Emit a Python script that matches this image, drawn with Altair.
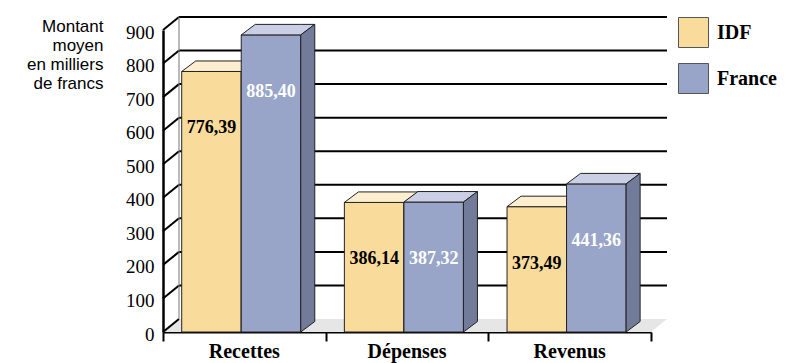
import altair as alt
import pandas as pd

# ---------------- data ----------------
categories = ["Recettes", "Dépenses", "Revenus"]
series = ["IDF", "France"]
idf_values = [776.39, 386.14, 373.49]
france_values = [885.40, 387.32, 441.36]
y_ticks = [0, 100, 200, 300, 400, 500, 600, 700, 800, 900]
y_title = ["Montant", "moyen", "en milliers", "de francs"]

# ---------------- style ----------------
front_colors = ["#F9DB9C", "#98A5C8"]
top_colors = ["#FDEECF", "#CBCFE5"]
side_colors = ["#C9B07A", "#737B9B"]
label_colors = ["black", "white"]
OUTLINE = "#222222"
SERIF = "Liberation Serif"
SANS = "Liberation Sans"

W, H = 488, 302
Y_MAX = 900
N = len(categories)
px_x = W / N
px_y = H / Y_MAX
BAR_OFFSET = 0.115      # in category units
BAR_WIDTH = 0.366
BAR_DX = 14 / px_x      # bar depth
BAR_DY = 10.5 / px_y
WALL_DX_PX, WALL_DY_PX = 16, 13
WALL_DX = WALL_DX_PX / px_x
WALL_DY = WALL_DY_PX / px_y

values = {"IDF": idf_values, "France": france_values}

bars, tops, sides = [], [], []
for i, cat in enumerate(categories):
    for j, s in enumerate(series):
        v = values[s][i]
        x0 = i + BAR_OFFSET + j * BAR_WIDTH
        x1 = x0 + BAR_WIDTH
        key = f"{cat}-{s}"
        bars.append(dict(cat=cat, series=s, x0=x0, x1=x1, xc=(x0 + x1) / 2, v=v, zero=0,
                         label=f"{v:.2f}".replace(".", ",")))
        pts = [(x0, v, v), (x0 + BAR_DX, v, v + BAR_DY), (x1, v, v + BAR_DY),
               (x1 + BAR_DX, v + BAR_DY, v + BAR_DY)]
        for k, (xx, ya, yb) in enumerate(pts):
            tops.append(dict(key=key, series=s, k=k, x=xx, y=ya, y2=yb))
        for k, (xx, ya, yb) in enumerate([(x1, v, 0), (x1 + BAR_DX, v + BAR_DY, BAR_DY)]):
            sides.append(dict(key=key, series=s, k=k, x=xx, y=ya, y2=yb))

bars_df = pd.DataFrame(bars)
tops_df = pd.DataFrame(tops)
sides_df = pd.DataFrame(sides)

floor_df = pd.DataFrame(dict(
    key="floor",
    x=[0, WALL_DX, N, N + WALL_DX],
    y=[0, 0, 0, WALL_DY],
    y2=[0, WALL_DY, WALL_DY, WALL_DY],
))
grid_df = pd.DataFrame(dict(v=y_ticks[1:], a=0, b=N))
diag_df = pd.DataFrame(dict(v=y_ticks, a=0))
backline_df = pd.DataFrame(dict(a=[0], lo=[0], hi=[Y_MAX]))
cat_df = pd.DataFrame(dict(cat=categories, xc=[i + 0.5 for i in range(N)], zero=0))

# ---------------- scales / axes ----------------
xs = alt.Scale(domain=[0, N], nice=False, zero=False)
ys = alt.Scale(domain=[0, Y_MAX], nice=False)
xaxis = alt.Axis(values=[0, 1, 2, 3], labels=False, title=None, tickSize=9, tickWidth=2,
                 tickColor="black", domainColor="black", domainWidth=2, grid=False)
yaxis = alt.Axis(values=y_ticks, title=y_title, ticks=False, grid=False,
                 domainColor="black", domainWidth=2.5,
                 labelFont=SERIF, labelFontSize=19, labelColor="black", labelPadding=9,
                 labelOffset=2,
                 titleFont=SANS, titleFontSize=17, titleFontWeight="normal", titleColor="black",
                 titleAngle=0, titleAlign="right", titleBaseline="alphabetic",
                 titleX=-60, titleY=1, titleLineHeight=19)


def X(f):
    return alt.X(f, scale=xs, axis=xaxis)


def Y(f):
    return alt.Y(f, scale=ys, axis=yaxis, stack=None)


def face(df, fill, stroke=OUTLINE):
    kw = dict(fill=fill, interpolate="linear", orient="vertical")
    if stroke:
        kw.update(stroke=stroke, strokeWidth=1, strokeJoin="miter")
    return alt.Chart(df).mark_area(**kw).encode(
        x=X("x:Q"), y=Y("y:Q"), y2="y2:Q", detail="key:N")


color_scale = alt.Scale(domain=series, range=front_colors)
legend = alt.Legend(title=None, orient="none", legendX=515, legendY=-13, symbolType="square",
                    symbolSize=900, symbolStrokeColor="#555555", symbolStrokeWidth=1,
                    symbolOpacity=1, rowPadding=11, labelFont=SERIF, labelFontSize=20,
                    labelFontWeight="bold", labelColor="black", labelOffset=8, padding=0)

layers = []

# floor
layers.append(face(floor_df, "#E6E6E6", stroke=None))

# back wall grid lines
layers.append(alt.Chart(grid_df).mark_rule(
    color="black", strokeWidth=2, xOffset=WALL_DX_PX, x2Offset=WALL_DX_PX,
    yOffset=-WALL_DY_PX, y2Offset=-WALL_DY_PX).encode(
    x=X("a:Q"), x2="b:Q", y=Y("v:Q")))

# side wall diagonals
layers.append(alt.Chart(diag_df).mark_rule(
    color="black", strokeWidth=2, x2Offset=WALL_DX_PX, y2Offset=-WALL_DY_PX).encode(
    x=X("a:Q"), x2="a:Q", y=Y("v:Q"), y2="v:Q"))

# back wall left edge
layers.append(alt.Chart(backline_df).mark_rule(
    color="#777777", strokeWidth=1, xOffset=WALL_DX_PX, x2Offset=WALL_DX_PX,
    yOffset=-WALL_DY_PX, y2Offset=-WALL_DY_PX).encode(
    x=X("a:Q"), x2="a:Q", y=Y("lo:Q"), y2="hi:Q"))

# bars, series by series (painter's order)
for j, s in enumerate(series):
    bdf = bars_df[bars_df.series == s]
    layers.append(alt.Chart(bdf).mark_rect(stroke=OUTLINE, strokeWidth=1).encode(
        x=X("x0:Q"), x2="x1:Q", y=Y("v:Q"), y2="zero:Q",
        color=alt.Color("series:N", scale=color_scale, legend=legend)))
    layers.append(face(tops_df[tops_df.series == s], top_colors[j]))
    layers.append(face(sides_df[sides_df.series == s], side_colors[j]))

# value labels
for j, s in enumerate(series):
    bdf = bars_df[bars_df.series == s]
    layers.append(alt.Chart(bdf).mark_text(
        font=SERIF, fontSize=18, fontWeight="bold", color=label_colors[j],
        baseline="middle", align="center", dy=57).encode(
        x=X("xc:Q"), y=Y("v:Q"), text="label:N"))

# category labels
layers.append(alt.Chart(cat_df).mark_text(
    font=SERIF, fontSize=20, fontWeight="bold", color="black",
    baseline="alphabetic", align="center", dy=26).encode(
    x=X("xc:Q"), y=Y("zero:Q"), text="cat:N"))

chart = alt.layer(*layers).properties(
    width=W, height=H,
    autosize=alt.AutoSizeParams(type="none"),
    padding={"left": 163, "top": 30, "right": 149, "bottom": 31},
    background="white",
).configure_view(stroke=None)

chart.save("out.html", embed_options={"renderer": "svg", "actions": False})
